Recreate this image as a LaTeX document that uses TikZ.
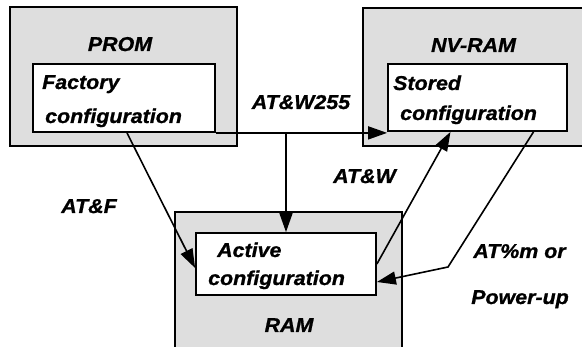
\documentclass[tikz,border=0pt]{standalone}
\usepackage{fontspec}
\setmainfont{Liberation Sans}[FakeStretch=1.07, BoldItalicFeatures={FakeBold=1}]
\usetikzlibrary{arrows.meta}

\begin{document}
\begin{tikzpicture}[x=1pt, y=-1pt,
    mem/.style={draw, line width=1.5pt, fill=black!13, inner sep=0pt},
    cfg/.style={draw, line width=1.8pt, fill=white, inner sep=0pt},
    txt/.style={font=\fontsize{20}{24}\selectfont\bfseries\itshape, inner sep=0pt},
    conn/.style={line width=1.6pt, -{Triangle[length=19pt,width=13pt]}}]
  \useasboundingbox (0,0) rectangle (582,347);
  \clip (0,0) rectangle (582,347);
  % memories
  \node[mem, minimum width=227pt, minimum height=139pt] (prom)  at (123.5,76.5) {};
  \node[mem, minimum width=237pt, minimum height=138pt] (nvram) at (481.5,77) {};
  \node[mem, minimum width=227pt, minimum height=158pt] (ram)   at (288.5,291) {};
  \node[txt, anchor=base] (promlbl)  at (120,51)  {PROM};
  \node[txt, anchor=base] (nvramlbl) at (473.5,52) {NV-RAM};
  \node[txt, anchor=base] (ramlbl)   at (289,332) {RAM};
  % configurations
  \node[cfg, minimum width=182pt, minimum height=68pt] (factory) at (124,98) {};
  \node[cfg, minimum width=179pt, minimum height=67pt] (stored)  at (477.5,97.5) {};
  \node[cfg, minimum width=180pt, minimum height=62pt] (active)  at (286,264) {};
  \node[txt, anchor=base west] (factory1) at (42,89)  {Factory};
  \node[txt, anchor=base west] (factory2) at (45,123) {configuration};
  \node[txt, anchor=base west] (stored1)  at (393,90)  {Stored};
  \node[txt, anchor=base west] (stored2)  at (400,120) {configuration};
  \node[txt, anchor=base west] (active1)  at (217,257) {Active};
  \node[txt, anchor=base west] (active2)  at (208,285) {configuration};
  % commands
  \node[txt, anchor=base] (atf)    at (89,213)    {AT\&F};
  \node[txt, anchor=base] (atw255) at (301,109)   {AT\&W255};
  \node[txt, anchor=base] (atw)    at (364.5,183) {AT\&W};
  \node[txt, anchor=base] (atm)    at (519.5,258) {AT\%m or};
  \node[txt, anchor=base] (pwr)    at (520,304)   {Power-up};
  \coordinate (split) at (active.north |- factory.south east);
  \coordinate (knee) at (448,267);
  \draw[conn] ([xshift=3pt]factory.south) -- ([yshift=-4pt]active.west);
  \draw[conn] (factory.south east) -- (factory.south east -| stored.west);
  \draw[conn] (split) -- (active.north);
  \draw[conn] (active.east) -- ([xshift=-27pt]stored.south);
  \draw[conn] ([xshift=56pt]stored.south) -- (knee) -- ([yshift=-18pt]active.east);
\end{tikzpicture}
\end{document}
